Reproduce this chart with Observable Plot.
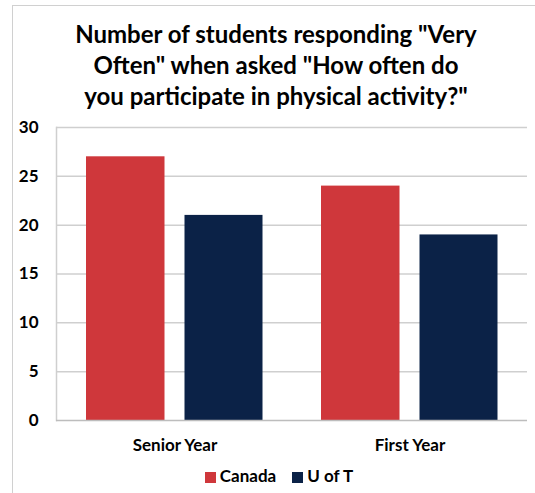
<!DOCTYPE html>
<html>
<head>
<meta charset="utf-8">
<script src="https://cdn.jsdelivr.net/npm/d3@7"></script>
<script src="https://cdn.jsdelivr.net/npm/@observablehq/plot@0.6"></script>
<style>
  html, body { margin: 0; padding: 0; background: #fff; }
  body { width: 535px; height: 493px; position: relative; overflow: hidden; font-family: Lato, "Open Sans", sans-serif; }
  #frame { position: absolute; left: 12px; top: 5px; width: 540px; height: 500px; border-left: 1px solid #d0d0d0; border-top: 1px solid #d0d0d0; }
  #title { position: absolute; left: 0; top: 18px; width: 552px; text-align: center; font-weight: 700; font-size: 24px; line-height: 31px; color: #000; }
  #chart { position: absolute; left: 0; top: 118px; }
  #legend { position: absolute; left: 0; top: 465px; width: 558px; text-align: center; font-weight: 700; font-size: 17px; color: #000; }
  #legend span.sw { display: inline-block; width: 11px; height: 11px; margin-right: 4px; vertical-align: -1px; }
  #legend span.item { margin: 0 8px; }
</style>
</head>
<body>
<div id="frame"></div>
<div id="title">Number of students responding "Very<br>Often" when asked "How often do<br>you participate in physical activity?"</div>
<div id="chart"></div>
<div id="legend"></div>
<script>
const categories = ["Senior Year", "First Year"];
const series = ["Canada", "U of T"];
const canadaValues = [27, 24];
const uoftValues = [21, 19];
const yTicks = [0, 5, 10, 15, 20, 25, 30];
const colors = ["#cf373b", "#0b2247"];

const rows = [];
categories.forEach((c, i) => {
  rows.push({category: c, series: series[0], value: canadaValues[i]});
  rows.push({category: c, series: series[1], value: uoftValues[i]});
});

const chart = Plot.plot({
  width: 535,
  height: 340,
  marginLeft: 56,
  marginRight: 8,
  marginTop: 9,
  marginBottom: 38,
  style: {fontFamily: "Lato, 'Open Sans', sans-serif", fontWeight: "700", fontSize: "16px", color: "#000", background: "transparent", overflow: "visible"},
  x: {domain: categories, padding: 0, label: null},
  y: {domain: [0, 30], label: null},
  color: {domain: series, range: colors},
  marks: [
    Plot.ruleY(yTicks.filter(d => d > 0), {stroke: "#cfcfcf", strokeWidth: 1.5, strokeOpacity: 1}),
    Plot.frame({anchor: "left", stroke: "#cfcfcf", strokeWidth: 1.5}),
    Plot.barY(rows.filter(d => d.series === series[0]), {x: "category", y: "value", fill: "series", insetLeft: 29, insetRight: 127.5}),
    Plot.barY(rows.filter(d => d.series === series[1]), {x: "category", y: "value", fill: "series", insetLeft: 127.5, insetRight: 29.5}),
    Plot.ruleY([0], {stroke: "#bdbdbd", strokeWidth: 1.5}),
    Plot.axisY({ticks: yTicks, tickSize: 0, tickPadding: 18, fontSize: 17, fontWeight: 700, fill: "#000"}),
    Plot.axisX({tickSize: 0, tickPadding: 18, fontSize: 17, fontWeight: 700, fill: "#000"})
  ]
});
document.getElementById("chart").appendChild(chart);

const legend = document.getElementById("legend");
series.forEach((s, i) => {
  const item = document.createElement("span");
  item.className = "item";
  const sw = document.createElement("span");
  sw.className = "sw";
  sw.style.background = colors[i];
  item.appendChild(sw);
  item.appendChild(document.createTextNode(s));
  legend.appendChild(item);
});
</script>
</body>
</html>
